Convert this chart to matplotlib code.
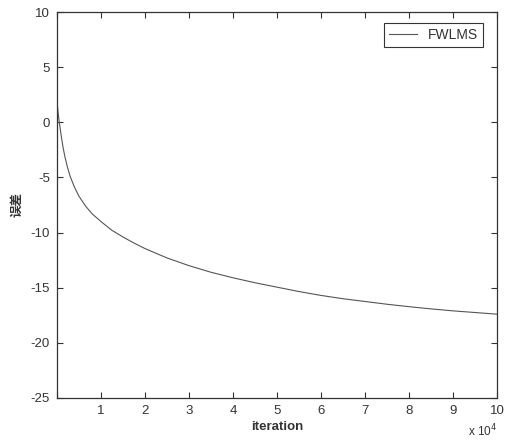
import matplotlib
matplotlib.use("Agg")
import matplotlib.pyplot as plt
from matplotlib.ticker import FuncFormatter, MultipleLocator

plt.rcParams['font.family'] = ['Liberation Sans', 'Noto Sans CJK SC', 'DejaVu Sans']
plt.rcParams['axes.unicode_minus'] = False

# values
iterations = [0, 250, 500, 750, 1000, 1400, 1800, 2400, 3000, 4000, 5000,
              6500, 8000, 10000, 12500, 15000, 17500, 20000, 25000, 30000,
              35000, 40000, 45000, 50000, 55000, 60000, 65000, 70000, 75000,
              80000, 85000, 90000, 95000, 100000]
error_db = [2.0, 0.9, 0.1, -0.6, -1.3, -2.3, -3.1, -4.1, -4.9, -5.9, -6.7,
            -7.6, -8.3, -9.0, -9.8, -10.4, -10.95, -11.45, -12.3, -13.0,
            -13.6, -14.1, -14.55, -14.95, -15.35, -15.7, -16.0, -16.25, -16.5,
            -16.72, -16.92, -17.1, -17.25, -17.4]

line_color = '#555555'
axis_color = '#333333'

fig = plt.figure(figsize=(5.13, 4.43), dpi=100)
ax = fig.add_axes([0.111, 0.1016, 0.858, 0.8713])

ax.plot(iterations, error_db, color=line_color, linewidth=0.8, label='FWLMS')

ax.set_xlim(0, 100000)
ax.set_ylim(-25, 10)
ax.xaxis.set_major_locator(MultipleLocator(10000))
ax.yaxis.set_major_locator(MultipleLocator(5))
ax.xaxis.set_major_formatter(FuncFormatter(lambda v, p: '' if v == 0 else f'{v/1e4:g}'))

ax.tick_params(direction='in', top=True, right=True, length=4, width=0.8,
               labelsize=9.5, colors=axis_color, pad=5)
for s in ax.spines.values():
    s.set_color(axis_color)
    s.set_linewidth(0.9)

ax.set_xlabel('iteration', fontsize=9.5, fontweight='bold', color=axis_color, labelpad=3)
ax.set_ylabel('误差', fontsize=9, fontweight='bold', color=axis_color,
              family=['Noto Sans CJK SC', 'DejaVu Sans'])
ax.yaxis.set_label_coords(-0.077, 0.5)

fig.text(0.969, 0.008, r'x 10$^4$', fontsize=8.5, color=axis_color, ha='right', va='bottom')

leg = ax.legend(loc='upper right', fontsize=10, fancybox=False, framealpha=1,
                edgecolor=axis_color, handlelength=2.0, borderpad=0.35,
                bbox_to_anchor=(0.984, 0.99))
leg.get_frame().set_linewidth(0.8)
for t in leg.get_texts():
    t.set_color(axis_color)

fig.savefig('out.png', dpi=100)
